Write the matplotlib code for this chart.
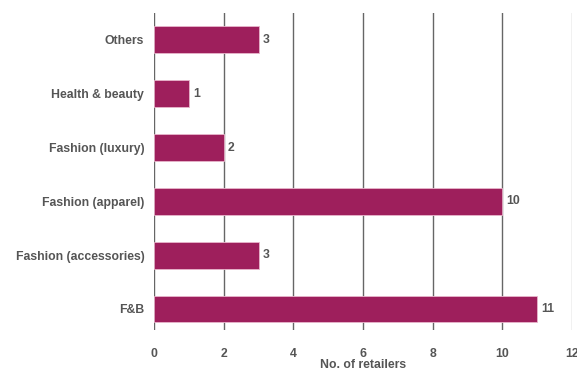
import matplotlib.pyplot as plt

categories = ['F&B', 'Fashion (accessories)', 'Fashion (apparel)',
              'Fashion (luxury)', 'Health & beauty', 'Others']
retailers = [11, 3, 10, 2, 1, 3]
x_ticks = [0, 2, 4, 6, 8, 10, 12]

plt.rcParams['font.family'] = ['Liberation Sans', 'DejaVu Sans']
text_color = '#555555'
fs = 8.8

fig = plt.figure(figsize=(5.77, 3.72), dpi=100)
ax = fig.add_axes([0.2669, 0.113, 0.7245, 0.852])

ypos = range(len(categories))
ax.barh(ypos, retailers, height=0.5, color='#9e1f5c',
        edgecolor='#e8b6cc', linewidth=0.6, zorder=3)
for y, v in zip(ypos, retailers):
    ax.text(v + 0.12, y, str(v), va='center', ha='left', fontsize=fs,
            fontweight='bold', color=text_color)

ax.set_xlim(0, 12)
ax.set_ylim(-0.39, 5.5)
ax.set_xticks(x_ticks)
ax.set_yticks(list(ypos))
ax.set_yticklabels(categories)
for t in x_ticks:
    ax.axvline(t, color='#bbbbbb' if t == 12 else '#666666', linewidth=1.0, zorder=1)

for s in ax.spines.values():
    s.set_visible(False)
ax.tick_params(axis='both', length=0, labelsize=fs, labelcolor=text_color)
ax.tick_params(axis='x', pad=13)
ax.tick_params(axis='y', pad=7)
for lbl in ax.get_xticklabels() + ax.get_yticklabels():
    lbl.set_fontweight('bold')
ax.set_xlabel('No. of retailers', fontsize=fs, fontweight='bold',
              color=text_color, labelpad=-1)

fig.savefig('out.png', dpi=100)
